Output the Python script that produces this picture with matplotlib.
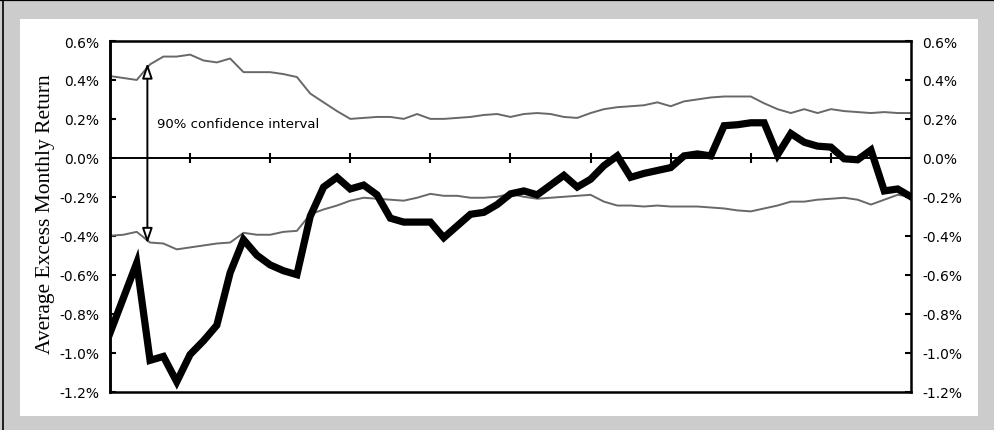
import numpy as np
import matplotlib.pyplot as plt
from matplotlib.patches import Rectangle
from matplotlib.lines import Line2D
from matplotlib.ticker import FuncFormatter

# Average excess monthly return (%) and its 90% confidence band, 61 periods
avg_return = [-0.90, -0.72, -0.54, -1.04, -1.02, -1.15, -1.01, -0.94, -0.86, -0.59,
              -0.42, -0.50, -0.55, -0.58, -0.60, -0.30, -0.15, -0.10, -0.16, -0.14,
              -0.19, -0.31, -0.33, -0.33, -0.33, -0.41, -0.35, -0.29, -0.28, -0.24,
              -0.185, -0.17, -0.19, -0.14, -0.09, -0.15, -0.11, -0.04, 0.01, -0.10,
              -0.08, -0.065, -0.05, 0.01, 0.02, 0.01, 0.165, 0.17, 0.18, 0.18,
              0.015, 0.125, 0.08, 0.06, 0.055, -0.005, -0.01, 0.04, -0.17, -0.16,
              -0.20]
upper_ci = [0.42, 0.41, 0.40, 0.48, 0.52, 0.52, 0.53, 0.50, 0.49, 0.51,
            0.44, 0.44, 0.44, 0.43, 0.415, 0.33, 0.285, 0.24, 0.20, 0.205,
            0.21, 0.21, 0.20, 0.225, 0.20, 0.20, 0.205, 0.21, 0.22, 0.225,
            0.21, 0.225, 0.23, 0.225, 0.21, 0.205, 0.23, 0.25, 0.26, 0.265,
            0.27, 0.285, 0.265, 0.29, 0.30, 0.31, 0.315, 0.315, 0.315, 0.28,
            0.25, 0.23, 0.25, 0.23, 0.25, 0.24, 0.235, 0.23, 0.235, 0.23,
            0.23]
lower_ci = [-0.40, -0.395, -0.38, -0.435, -0.44, -0.47, -0.46, -0.45, -0.44, -0.435,
            -0.385, -0.395, -0.395, -0.38, -0.375, -0.29, -0.265, -0.245, -0.22, -0.205,
            -0.21, -0.215, -0.22, -0.205, -0.185, -0.195, -0.195, -0.205, -0.205, -0.20,
            -0.185, -0.20, -0.21, -0.205, -0.20, -0.195, -0.19, -0.225, -0.245, -0.245,
            -0.25, -0.245, -0.25, -0.25, -0.25, -0.255, -0.26, -0.27, -0.275, -0.26,
            -0.245, -0.225, -0.225, -0.215, -0.21, -0.205, -0.215, -0.24, -0.215, -0.19,
            -0.20]
y_ticks = [-1.2, -1.0, -0.8, -0.6, -0.4, -0.2, 0.0, 0.2, 0.4, 0.6]

periods = np.arange(len(avg_return))

fig = plt.figure(figsize=(9.95, 4.31), dpi=100, facecolor='#cccccc')

# white panel on the grey mat, black rule along top and left edge
W, H = 995, 431
fig.patches.append(Rectangle((20 / W, 1 - 417 / H), 958 / W, 397 / H,
                             transform=fig.transFigure, facecolor='white',
                             edgecolor='none', zorder=-10))
fig.lines.append(Line2D([0, 1], [1 - 1 / H, 1 - 1 / H], transform=fig.transFigure,
                        color='black', lw=1.6, zorder=-5))
fig.lines.append(Line2D([3.5 / W, 3.5 / W], [0, 1], transform=fig.transFigure,
                        color='black', lw=1.2, zorder=-5))

ax = fig.add_axes([110 / W, 1 - 392.5 / H, 801 / W, 350.5 / H])
ax.set_facecolor('none')
ax2 = ax.twinx()

ax.plot(periods, upper_ci, color='#686868', lw=1.4, zorder=2)
ax.plot(periods, lower_ci, color='#686868', lw=1.4, zorder=2)
ax.plot(periods, avg_return, color='black', lw=5.2, solid_joinstyle='miter',
        zorder=4)

ax.set_xlim(0, 60)
for a in (ax, ax2):
    a.set_ylim(-1.2, 0.6)
    a.set_yticks(y_ticks)
    a.yaxis.set_major_formatter(FuncFormatter(lambda v, p: f'{v:.1f}%'))
    for s in a.spines.values():
        s.set_linewidth(1.8)

# zero line carries the period tick marks
ax.spines['bottom'].set_position(('data', 0))
ax.spines['bottom'].set_linewidth(1.4)
ax.spines['top'].set_visible(False)
ax.spines['right'].set_visible(False)
ax.set_xticks(np.arange(6, 60, 6))
ax.tick_params(axis='x', direction='inout', length=7, width=1.5, labelbottom=False)
ax.tick_params(axis='y', direction='in', length=4, width=1.5, pad=8,
               labelsize=10, labelcolor='black')
ax2.tick_params(axis='y', direction='in', length=4, width=1.5, pad=8,
                labelsize=10)

ax.annotate('', xy=(2.8, 0.487), xytext=(2.8, -0.44),
            arrowprops=dict(arrowstyle='<|-|>,head_length=0.65,head_width=0.22',
                            mutation_scale=14, lw=1.4,
                            fc='white', ec='black', shrinkA=0, shrinkB=0))
ax.text(3.5, 0.175, '90% confidence interval', fontsize=9.5, va='center',
        ha='left')

fig.text(46 / W, 1 - 214 / H, 'Average Excess Monthly Return', rotation=90,
         ha='center', va='center', fontsize=15.5, family='Liberation Serif')

fig.savefig('out.png', dpi=100, facecolor=fig.get_facecolor())
